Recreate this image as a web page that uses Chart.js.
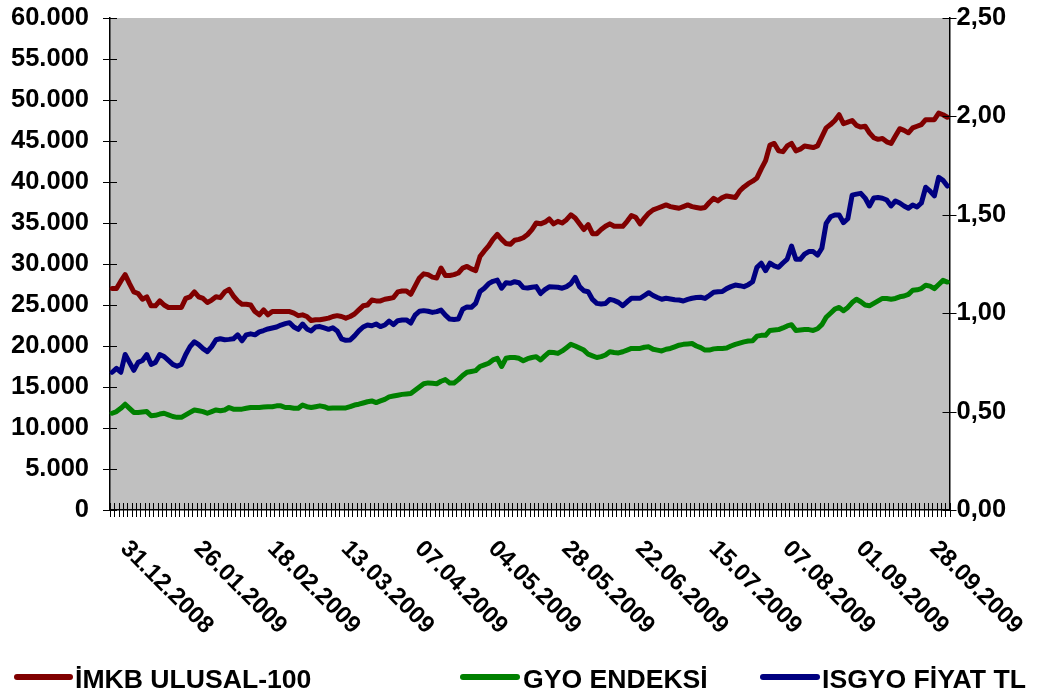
<!DOCTYPE html>
<html lang="tr">
<head>
<meta charset="utf-8">
<title>İMKB ULUSAL-100 / GYO ENDEKSİ / ISGYO</title>
<script src="https://cdn.jsdelivr.net/npm/chart.js@4.4.1/dist/chart.umd.min.js"></script>
<style>
  html, body { margin: 0; padding: 0; background: #fff; }
  #wrap { width: 1042px; height: 692px; position: relative; }
</style>
</head>
<body>
<div id="wrap"><canvas id="chart"></canvas></div>
<script>
/* =========================
   DATA
========================= */

// date labels shown under the axis (every 17th trading day)
const tickLabels = [
  "31.12.2008", "26.01.2009", "18.02.2009", "13.03.2009", "07.04.2009", "04.05.2009",
  "28.05.2009", "22.06.2009", "15.07.2009", "07.08.2009", "01.09.2009", "28.09.2009"
];
const firstLabelIndex = 3;
const labelEvery = 17;

const seriesNames = ["İMKB ULUSAL-100", "GYO ENDEKSİ", "ISGYO FİYAT TL"];

// left axis
const imkb = [
  27000, 27000, 27900, 28700, 27600, 26600, 26400, 25700, 26000, 24900,
  24900, 25500, 25000, 24700, 24700, 24700, 24700, 25800, 26000, 26600,
  26000, 25800, 25300, 25600, 26000, 25900, 26600, 26900, 26100, 25500,
  25100, 25100, 25000, 24200, 23800, 24400, 23800, 24200, 24200, 24200,
  24200, 24200, 24000, 23700, 23800, 23600, 23100, 23200, 23200, 23300,
  23400, 23600, 23700, 23600, 23400, 23600, 23900, 24400, 24900, 25000,
  25600, 25500, 25500, 25700, 25800, 25900, 26600, 26700, 26700, 26300,
  27300, 28300, 28800, 28700, 28400, 28300, 29500, 28600, 28600, 28700,
  28900, 29500, 29700, 29400, 29200, 30900, 31600, 32200, 33000, 33600,
  33000, 32500, 32400, 32900, 33000, 33200, 33600, 34200, 35000, 34900,
  35100, 35500, 34900, 35200, 35000, 35400, 36000, 35600, 34900, 34200,
  34800, 33700, 33700, 34200, 34600, 34900, 34600, 34600, 34600, 35200,
  35900, 35700, 34900, 35600, 36200, 36600, 36800, 37000, 37200, 37000,
  36900, 36800, 37000, 37200, 37000, 36900, 36800, 36900, 37500, 38000,
  37700, 38100, 38300, 38200, 38100, 38900, 39400, 39800, 40100, 40500,
  41600, 42600, 44500, 44700, 43800, 43700, 44400, 44700, 43800, 44000,
  44400, 44300, 44200, 44400, 45500, 46600, 47000, 47500, 48200, 47100,
  47300, 47500, 46900, 46700, 46800, 46000, 45400, 45200, 45300, 44900,
  44700, 45600, 46500, 46300, 46000, 46600, 46800, 47000, 47600, 47600,
  47600, 48400, 48200, 47900
];

// left axis
const gyo = [
  11800, 12000, 12400, 12900, 12400, 11900, 11900, 11950, 12000, 11500,
  11550, 11700, 11800, 11600, 11400, 11300, 11300, 11600, 11900, 12200,
  12100, 12000, 11800, 12000, 12200, 12100, 12200, 12500, 12300, 12300,
  12300, 12400, 12500, 12500, 12500, 12550, 12600, 12600, 12700, 12700,
  12500, 12500, 12400, 12400, 12800, 12600, 12500, 12600, 12700, 12600,
  12400, 12450, 12450, 12450, 12450, 12600, 12800, 12900, 13050, 13200,
  13300, 13100, 13300, 13500, 13800, 13900, 14000, 14100, 14150, 14200,
  14600, 15000, 15400, 15500, 15450, 15400, 15700, 15900, 15500, 15500,
  15900, 16400, 16800, 16900, 17000, 17500, 17700, 17900, 18300, 18500,
  17500, 18500, 18600, 18600, 18500, 18200, 18450, 18600, 18700, 18300,
  18800, 19250, 19200, 19100, 19400, 19800, 20200, 20000, 19750, 19500,
  19000, 18800, 18600, 18700, 18900, 19300, 19200, 19150, 19300, 19500,
  19700, 19700, 19700, 19850, 19900, 19600, 19500, 19400, 19600, 19700,
  19900, 20100, 20200, 20250, 20300, 20000, 19800, 19500, 19500, 19650,
  19700, 19700, 19750, 20000, 20200, 20350, 20500, 20600, 20650, 21200,
  21300, 21300, 21900, 21950, 22000, 22200, 22450, 22600, 21900, 21950,
  22000, 22000, 21900, 22100, 22600, 23500, 24000, 24500, 24700, 24300,
  24700, 25300, 25700, 25400, 25000, 24900, 25200, 25500, 25800, 25800,
  25700, 25800, 26000, 26100, 26300, 26800, 26850, 27000, 27400, 27300,
  27000, 27500, 28000, 27800
];

// right axis (TL)
const isgyo = [
  0.70, 0.72, 0.70, 0.79, 0.75, 0.71, 0.75, 0.76, 0.79, 0.74,
  0.75, 0.79, 0.78, 0.76, 0.74, 0.73, 0.74, 0.79, 0.83, 0.855,
  0.84, 0.82, 0.805, 0.83, 0.865, 0.87, 0.865, 0.867, 0.87, 0.89,
  0.86, 0.89, 0.895, 0.89, 0.905, 0.912, 0.92, 0.925, 0.93, 0.94,
  0.947, 0.952, 0.93, 0.918, 0.945, 0.92, 0.91, 0.93, 0.932, 0.925,
  0.918, 0.926, 0.91, 0.87, 0.862, 0.864, 0.885, 0.91, 0.93, 0.94,
  0.936, 0.945, 0.932, 0.94, 0.96, 0.942, 0.962, 0.965, 0.966, 0.95,
  0.99, 1.01, 1.013, 1.01, 1.004, 1.008, 1.016, 0.99, 0.97, 0.968,
  0.97, 1.02, 1.032, 1.03, 1.05, 1.11, 1.127, 1.15, 1.162, 1.168,
  1.127, 1.155, 1.152, 1.16, 1.155, 1.13, 1.128, 1.132, 1.135, 1.10,
  1.12, 1.134, 1.133, 1.132, 1.127, 1.135, 1.15, 1.182, 1.135, 1.114,
  1.109, 1.07, 1.05, 1.047, 1.049, 1.07, 1.065, 1.055, 1.038, 1.058,
  1.076, 1.076, 1.076, 1.09, 1.104, 1.09, 1.08, 1.071, 1.076, 1.072,
  1.068, 1.067, 1.062, 1.07, 1.076, 1.08, 1.081, 1.075, 1.09, 1.106,
  1.109, 1.11, 1.125, 1.135, 1.143, 1.14, 1.135, 1.145, 1.16, 1.233,
  1.254, 1.216, 1.254, 1.24, 1.233, 1.255, 1.275, 1.341, 1.274, 1.274,
  1.30, 1.313, 1.313, 1.295, 1.33, 1.457, 1.49, 1.499, 1.499, 1.46,
  1.48, 1.60, 1.605, 1.609, 1.585, 1.545, 1.585, 1.588, 1.584, 1.575,
  1.545, 1.57, 1.56, 1.545, 1.533, 1.55, 1.54, 1.56, 1.64, 1.62,
  1.596, 1.69, 1.675, 1.646
];

/* =========================
   LOOK
========================= */

const FONT = "'Liberation Sans', Arial, sans-serif";
const colors = ["#800000", "#008000", "#000080"];

// legend slots: line start/end and text x
const legendSlots = [
  { x0: 17, x1: 70, tx: 75 },
  { x0: 463, x1: 517, tx: 523 },
  { x0: 763, x1: 817, tx: 822 }
];

// one category per trading day, only every 17th gets a date
const categories = imkb.map((_, i) => {
  const k = i - firstLabelIndex;
  return k >= 0 && k % labelEvery === 0 ? tickLabels[k / labelEvery] : "";
});

function dotThousands(v) {
  return String(v).replace(/\B(?=(\d{3})+(?!\d))/g, ".");
}

/* ---------- plugins ---------- */

const plotBg = {
  id: "plotBg",
  beforeDraw(chart) {
    const { ctx, chartArea: a } = chart;
    ctx.save();
    ctx.fillStyle = "#c0c0c0";
    ctx.fillRect(a.left, a.top, a.right - a.left, a.bottom - a.top);
    ctx.restore();
  }
};

// excel style tick marks crossing the axis lines
const crossTicks = {
  id: "crossTicks",
  afterDraw(chart) {
    const { ctx, chartArea: a, scales } = chart;
    const len = 7;
    ctx.save();
    ctx.strokeStyle = "#000";
    ctx.lineWidth = 1;
    ctx.beginPath();
    scales.y.ticks.forEach(t => {
      const y = Math.round(scales.y.getPixelForValue(t.value)) + 0.5;
      ctx.moveTo(a.left - len, y);
      ctx.lineTo(a.left + len, y);
    });
    scales.y1.ticks.forEach(t => {
      const y = Math.round(scales.y1.getPixelForValue(t.value)) + 0.5;
      ctx.moveTo(a.right - len, y);
      ctx.lineTo(a.right + len, y);
    });
    const xs = scales.x;
    const half = (xs.getPixelForValue(1) - xs.getPixelForValue(0)) / 2;
    for (let i = 0; i <= categories.length; i++) {
      const px = Math.round(xs.getPixelForValue(i) - half) + 0.5;
      ctx.moveTo(px, a.bottom - len);
      ctx.lineTo(px, a.bottom + len);
    }
    ctx.stroke();
    ctx.restore();
  }
};

// dates run down to the right, starting at their category
const dateLabels = {
  id: "dateLabels",
  afterDraw(chart) {
    const { ctx, chartArea: a, scales: { x } } = chart;
    ctx.save();
    ctx.font = "bold 24px " + FONT;
    ctx.fillStyle = "#000";
    ctx.textAlign = "left";
    ctx.textBaseline = "middle";
    chart.data.labels.forEach((lab, i) => {
      if (!lab) return;
      ctx.save();
      ctx.translate(x.getPixelForValue(i) - 1, a.bottom + 35);
      ctx.rotate(Math.PI / 4);
      ctx.fillText(lab, 0, 0);
      ctx.restore();
    });
    ctx.restore();
  }
};

const bottomLegend = {
  id: "bottomLegend",
  afterDraw(chart) {
    const { ctx } = chart;
    ctx.save();
    ctx.font = "bold 26.6px " + FONT;
    ctx.textBaseline = "alphabetic";
    ctx.lineCap = "round";
    chart.data.datasets.forEach((ds, i) => {
      const s = legendSlots[i];
      ctx.strokeStyle = ds.borderColor;
      ctx.lineWidth = 6;
      ctx.beginPath();
      ctx.moveTo(s.x0, 677);
      ctx.lineTo(s.x1, 677);
      ctx.stroke();
      ctx.fillStyle = "#000";
      ctx.fillText(ds.label, s.tx, 688);
    });
    ctx.restore();
  }
};

/* =========================
   CHART
========================= */

const tickFont = { family: FONT, size: 25.5, weight: "bold" };
const axisBorder = { display: true, color: "#000", width: 1.5 };

// fixed box sizes so the plot sits where the original one does
function fixWidth(w) {
  return s => {
    s.width = w;
    s.paddingTop = 0;
    s.paddingBottom = 0;
  };
}

new Chart(document.getElementById("chart"), {
  type: "line",
  data: {
    labels: categories,
    datasets: [
      { label: seriesNames[0], data: imkb, yAxisID: "y", borderColor: colors[0], order: 3 },
      { label: seriesNames[1], data: gyo, yAxisID: "y", borderColor: colors[1], order: 2 },
      { label: seriesNames[2], data: isgyo, yAxisID: "y1", borderColor: colors[2], order: 1 }
    ]
  },
  options: {
    responsive: true,
    maintainAspectRatio: false,
    animation: false,
    layout: { padding: { top: 18, left: 0, right: 0, bottom: 0 } },
    elements: {
      line: { borderWidth: 5, tension: 0, borderJoinStyle: "round", borderCapStyle: "round" },
      point: { radius: 0, hoverRadius: 0 }
    },
    plugins: {
      legend: { display: false },
      tooltip: { enabled: false }
    },
    scales: {
      x: {
        offset: true,
        grid: { display: false, drawTicks: false },
        border: axisBorder,
        ticks: { display: false },
        afterFit: s => {
          s.height = 182;
          s.paddingLeft = 0;
          s.paddingRight = 0;
        }
      },
      y: {
        position: "left",
        min: 0,
        max: 60000,
        grid: { display: false, drawTicks: false },
        border: axisBorder,
        ticks: {
          stepSize: 5000,
          padding: 21,
          color: "#000",
          font: tickFont,
          callback: v => dotThousands(v)
        },
        afterFit: fixWidth(110)
      },
      y1: {
        position: "right",
        min: 0,
        max: 2.5,
        grid: { display: false, drawTicks: false },
        border: axisBorder,
        ticks: {
          stepSize: 0.5,
          padding: 7,
          color: "#000",
          font: tickFont,
          callback: v => v.toFixed(2).replace(".", ",")
        },
        afterFit: fixWidth(92.5)
      }
    }
  },
  plugins: [plotBg, crossTicks, dateLabels, bottomLegend]
});
</script>
</body>
</html>
